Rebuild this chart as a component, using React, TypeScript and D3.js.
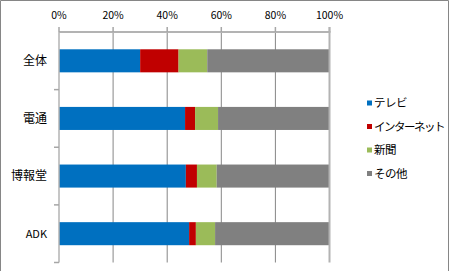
import * as d3 from "d3";
import { useEffect, useRef } from "react";

const categories = ["全体", "電通", "博報堂", "ADK"];
const seriesNames = ["テレビ", "インターネット", "新聞", "その他"];
const tvValues = [30.0, 46.6, 46.9, 48.1];
const netValues = [14.2, 3.7, 4.1, 2.5];
const paperValues = [10.6, 8.5, 7.3, 7.1];
const otherValues = [45.2, 41.2, 41.7, 42.3];
const tickValues = [0, 20, 40, 60, 80, 100];
const colors = ["#0070C0", "#C00000", "#9BBB59", "#808080"];

const W = 450;
const H = 271;

export default function App() {
  const svgRef = useRef<SVGSVGElement>(null);

  useEffect(() => {
    if (!svgRef.current) return;
    const svg = d3.select(svgRef.current);
    svg.selectAll("*").remove();

    const font = "'Noto Sans CJK JP', 'Noto Sans', sans-serif";
    const left = 59;
    const right = 329.5;
    const top = 32;
    const bottom = 262.5;

    // frame
    svg
      .append("path")
      .attr("d", `M0.5,${H} V0.5 H${W - 1.5} V${H}`)
      .attr("fill", "none")
      .attr("stroke", "#868686")
      .attr("stroke-width", 1);

    const x = d3.scaleLinear().domain([0, 100]).range([left, right]);
    const y = d3.scaleBand().domain(categories).range([top, bottom]).paddingInner(0.6).paddingOuter(0.3);
    const yb = d3.scaleBand().domain(categories).range([top, bottom]);

    const rows = categories.map((c, i) => ({
      cat: c,
      vals: [tvValues[i], netValues[i], paperValues[i], otherValues[i]],
    }));

    // grid
    svg
      .append("g")
      .selectAll("line")
      .data(tickValues.slice(1, -1))
      .join("line")
      .attr("x1", (d) => x(d))
      .attr("x2", (d) => x(d))
      .attr("y1", top)
      .attr("y2", bottom)
      .attr("stroke", "#868686")
      .attr("stroke-width", 1);

    // bars
    const stack = d3.stack<any>().keys(["0", "1", "2", "3"]).value((d, k) => d.vals[+k]);
    const layers = stack(rows);
    layers.forEach((layer, li) => {
      svg
        .append("g")
        .selectAll("rect")
        .data(layer)
        .join("rect")
        .attr("x", (d) => x(d[0]))
        .attr("width", (d) => x(d[1]) - x(d[0]))
        .attr("y", (d) => y(d.data.cat)!)
        .attr("height", y.bandwidth())
        .attr("fill", colors[li]);
    });

    // top axis
    const ax = svg.append("g").attr("transform", `translate(0,${top})`);
    ax.append("line")
      .attr("x1", left)
      .attr("x2", right + 1)
      .attr("stroke", "#b3b3b3")
      .attr("stroke-width", 2);
    ax.selectAll(".tk")
      .data(tickValues)
      .join("line")
      .attr("x1", (d) => x(d))
      .attr("x2", (d) => x(d))
      .attr("y1", -5)
      .attr("y2", 0)
      .attr("stroke", "#a6a6a6")
      .attr("stroke-width", 1.5);
    ax.selectAll("text")
      .data(tickValues)
      .join("text")
      .attr("x", (d) => x(d))
      .attr("y", -13)
      .attr("text-anchor", "middle")
      .attr("font-family", font)
      .attr("font-size", 10.5)
      .attr("fill", "#000")
      .text((d) => `${d}%`);

    // 100% line
    svg
      .append("line")
      .attr("x1", x(100))
      .attr("x2", x(100))
      .attr("y1", top - 5)
      .attr("y2", bottom)
      .attr("stroke", "#b3b3b3")
      .attr("stroke-width", 2);

    // left axis
    const ay = svg.append("g");
    ay.append("line")
      .attr("x1", left)
      .attr("x2", left)
      .attr("y1", top)
      .attr("y2", bottom)
      .attr("stroke", "#b3b3b3")
      .attr("stroke-width", 1.5);
    const bounds = [...categories.map((c) => yb(c)!), bottom];
    ay.selectAll(".tk")
      .data(bounds.slice(1))
      .join("line")
      .attr("x1", left - 5)
      .attr("x2", left)
      .attr("y1", (d) => d)
      .attr("y2", (d) => d)
      .attr("stroke", "#a6a6a6")
      .attr("stroke-width", 1.5);
    ay.selectAll("text")
      .data(categories)
      .join("text")
      .attr("x", 47)
      .attr("y", (d) => y(d)! + y.bandwidth() / 2)
      .attr("dy", "0.36em")
      .attr("text-anchor", "end")
      .attr("font-family", font)
      .attr("font-size", (d) => (d === "ADK" ? 11 : 12))
      .attr("fill", "#000")
      .text((d) => d);

    // legend
    const lg = svg
      .append("g")
      .selectAll("g")
      .data(seriesNames)
      .join("g")
      .attr("transform", (_, i) => `translate(367,${103 + i * 23.5})`);
    lg.append("rect")
      .attr("x", 0)
      .attr("y", -2.5)
      .attr("width", 5)
      .attr("height", 5)
      .attr("fill", (_, i) => colors[i]);
    lg.append("text")
      .attr("x", 7)
      .attr("y", 0)
      .attr("dy", "0.36em")
      .attr("font-family", font)
      .attr("font-size", 11.5)
      .attr("letter-spacing", (d) => (d.length > 4 ? -1.5 : -0.5))
      .attr("fill", "#000")
      .text((d) => d);
  }, []);

  return (
    <svg
      ref={svgRef}
      width={W}
      height={H}
      style={{ position: "absolute", left: 0, top: 0, background: "#fff" }}
    />
  );
}
